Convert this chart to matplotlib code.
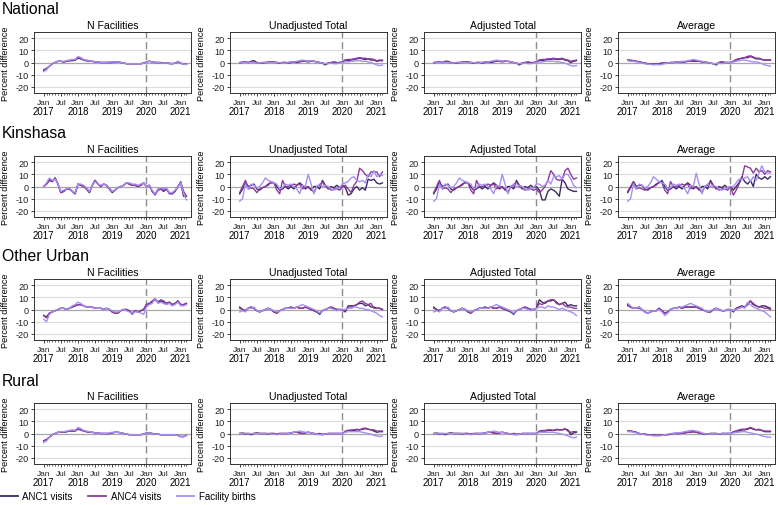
import matplotlib
matplotlib.use("Agg")
import matplotlib.pyplot as plt
import matplotlib.transforms as mtransforms
from matplotlib.lines import Line2D

plt.rcParams['font.family'] = ['Liberation Sans', 'DejaVu Sans']

# ---------------- data ----------------
months = list(range(51))  # Jan 2017 .. Mar 2021
series_names = ["ANC1 visits", "ANC4 visits", "Facility births"]
regions = ["National", "Kinshasa", "Other Urban", "Rural"]
panels = ["N Facilities", "Unadjusted Total", "Adjusted Total", "Average"]
tick_months = [0, 6, 12, 18, 24, 30, 36, 42, 48]
tick_labels = ["Jan", "Jul", "Jan", "Jul", "Jan", "Jul", "Jan", "Jul", "Jan"]
year_months = [0, 12, 24, 36, 48]
year_labels = ["2017", "2018", "2019", "2020", "2021"]
covid_month = 36

# National
nat_nf_anc1 = [-6,-5,-3,-1,0,1,1,0.5,1,1.5,1.5,2, 3.5,3,2,1.5,1,1,0.5,0.5,0,0,0,0, 0,0.5,0.5,0,-0.5,-1,-1,-1,-1,-1,-1,-0.5, 0.5,1,0.5,0,0,0,-0.5,-0.5,-0.5,-1,-0.5,0.5, -0.5,-1.5,-1.5]
nat_nf_anc4 = [-6.5,-5,-3,-1,0,1,1,0.5,1,1.5,2,2, 4,3.5,2,1.5,1,1,0.5,0.5,0,0,0,0, 0,0.5,0.5,0,-0.5,-1,-1,-1,-1,-1,-1,-0.5, 0.5,1,0.5,0,0,-0.5,-0.5,-0.5,-1,-1,-0.5,0.5, -0.5,-1.5,-1.5]
nat_nf_birth = [-7.5,-6,-3,-1,0,1,1,1,1.5,2,2.5,2.5, 5,4,2.5,2,1.5,1,0.5,0.5,0,0,0,0.5, 0.5,0.5,0.5,0,-0.5,-1,-1,-1,-1,-1,-1,-0.5, 0.5,1,0.5,0,0,-0.5,-0.5,-0.5,-0.5,-1,-0.5,1, -0.5,-1.5,-1.5]

nat_un_anc1 = [-0.5,0,0.5,0,1,1.5,0,-0.5,-0.5,0,0,0.5, 0.5,0,-0.5,0,0,-0.5,0,0.5,0,0.5,1,1, 0.5,1,1,0.5,0,-0.5,-2,-0.5,0,0,-0.5,0, 0.5,2,1.5,2,2.5,3,3.5,3,2.5,3,2,2, 1,1.5,1.5]
nat_un_anc4 = [0,0.5,0.5,0,0.5,0.5,-0.5,-0.5,0,0,0.5,0.5, 0,0,-0.5,0,0,0,0.5,0.5,0.5,1,1,1.5, 1,1.5,1,0.5,0,-0.5,-1,-0.5,0,0.5,0,0, 0.5,2,2.5,2.5,3,3.5,4,3.5,3.5,3,3,2.5, 1.5,2,2]
nat_un_birth = [-0.5,0,0,0.5,0,0,-0.5,-0.5,0,0,0,0, 0,0,0,-0.5,-0.5,0,0.5,0.5,1,1.5,2,1.5, 1,1.5,1,0.5,0,-0.5,-1,-1,-0.5,-1,-1,-0.5, 0,0.5,0.5,1,1,1.5,1.5,1,1,0.5,0,-1, -2,-2.5,-2]

nat_ad_anc1 = [-0.5,0,0.5,0,1,1,0,-0.5,-0.5,0,0,0.5, 0.5,0,-0.5,0,0,-0.5,0,0.5,0,0.5,1,1, 0.5,1,1,0.5,0,-0.5,-2,-0.5,0,0,-0.5,0, 0.5,2,1.5,2,2.5,2.5,3,2.5,2.5,3,2,1.5, 0,1,1.5]
nat_ad_anc4 = [0,0.5,0.5,0,0.5,0.5,-0.5,-0.5,0,0,0.5,0.5, 0,0,-0.5,0,0,0,0.5,0.5,0.5,1,1,1.5, 1,1.5,1,0.5,0,-0.5,-1,-0.5,0,0.5,0,0, 0.5,2,2.5,2.5,3,3,3.5,3,3,3.5,2.5,2, 1,1.5,2]
nat_ad_birth = [-0.5,0,0,0.5,0,0,-0.5,-0.5,0,0,0,0, 0,0,0,-0.5,-0.5,0,0.5,0.5,1,1.5,2,1.5, 1,1.5,1,0.5,0,-0.5,-1,-1,-0.5,-1,-1,-0.5, 0,0.5,0.5,1,1,1,1,0.5,0.5,0,-0.5,-1.5, -2.5,-3,-2.5]

nat_av_anc1 = [2,1.5,1.5,1,0.5,0,-0.5,-1,-1,-1.5,-1,-1, -0.5,-0.5,-0.5,0,0,0.5,0.5,0.5,0.5,1,1,1, 1,1,0.5,0.5,0,-0.5,-1,-2,0,0.5,0,0, 0,1,2,3,3.5,4,4,5,4,3,3,2.5, 2,2,2]
nat_av_anc4 = [2,2,1.5,1,0.5,0,-0.5,-1,-1,-1.5,-1,-1, -0.5,-0.5,-0.5,0,0,0.5,0.5,0.5,0.5,1,1,1.5, 1.5,1,0.5,0.5,0,-0.5,-1,-1,0,0.5,0,0, 0,1,2.5,3,3.5,4,5,5.5,4.5,3.5,3.5,2.5, 2,2,2]
nat_av_birth = [1.5,1,1,0.5,0,-0.5,-1,-1.5,-1.5,-2,-1.5,-2, -1.5,-1,-0.5,0,0,0.5,0.5,1,1,1.5,2,2.5, 2,1.5,1,0.5,0,-0.5,-1,-1,-0.5,-1,-0.5,0, 0,0.5,1,1.5,2,2,1.5,1,0.5,0.5,0,-1, -2,-2.5,-3]

# Kinshasa
kin_nf_anc1 = [0,2,5,4,7,2,-5,-4,-2,-2,-4,-6, 2,1,0,-2,-5,1,5,2,0,2,1,-2, -5,-3,-1,0,1,3,2,1,1,0,1,3, 0,1,-4,-6,-3,-2,-4,-2,-5,-6,-4,0, 3,-8,-8]
kin_nf_anc4 = [0,2,6,4,7,2,-5,-4,-2,-2,-4,-6, 2,1,0,-2,-5,1,5,2,0,2,1,-2, -4,-3,-1,0,1,3,2,1,1,0,1,3, 0,1,-4,-7,-3,-2,-3,-2,-6,-6,-4,0, 4,-4,-8]
kin_nf_birth = [0,3,7,5,6,2,-4,-3,-2,-1,-4,-5, 2,2,1,-1,-4,1,4,2,1,2,1,-1, -4,-3,-1,0,1,3,3,2,2,1,2,3, 0,1,-3,-6,-2,-1,-2,-1,-5,-5,-3,0, 3,-6,-11]

kin_un_anc1 = [-6,-2,4,0,1,2,-2,-3,-1,0,2,3, 3,0,-3,-2,0,-2,0,-2,1,3,1,-2, 0,-3,0,0,-2,5,1,-2,0,-1,1,-1, 1,-1,-7,-6,-2,0,-3,-1,-3,6,5,6, 3,2,3]
kin_un_anc4 = [-5,0,5,-2,-1,-2,-5,-2,-1,0,1,4, 3,-3,-6,5,0,0,1,2,1,2,-2,0, -1,-2,-5,0,1,4,0,-1,-3,-2,-2,-3, 0,1,-2,-5,1,4,15,13,10,8,12,12, 12,8,12]
kin_un_birth = [-12,-10,2,-2,2,1,-1,0,3,7,5,4, 3,2,-2,-1,2,1,2,0,-2,-6,1,0, 10,2,-6,0,2,0,1,0,-2,-3,-2,-1, 2,3,4,7,8,5,4,5,3,10,8,13, 8,10,9]

kin_ad_anc1 = kin_un_anc1[:36] + [0,-3,-11,-11,-4,-2,-3,-5,-8,6,3,-2,-3,-4,-4]
kin_ad_anc4 = kin_un_anc4[:36] + [-2,-5,-3,0,5,13,10,6,5,6,13,15,10,6,7]
kin_ad_birth = kin_un_birth[:36] + [2,2,0,1,5,2,8,8,9,6,10,10,6,1,-1]

kin_av_anc1 = [-5,-1,4,0,1,1,-2,-3,-1,0,2,3, 5,0,-3,-2,0,-2,0,-2,1,3,1,-2, 0,-3,0,0,-2,5,1,-2,0,-1,1,-1, 0,-3,0,3,8,4,2,5,0,10,7,6,8, 6,8]
kin_av_anc4 = [-4,0,4,-2,-1,-2,-3,-2,-1,0,1,4, 3,-3,-6,4,0,0,1,2,1,2,-2,0, -1,-2,-5,0,1,4,0,-1,-3,-2,-2,-3, 0,-7,-3,2,7,17,16,15,11,15,12,13, 10,13,12]
kin_av_birth = [-12,-10,2,-2,2,1,-1,0,3,8,6,4, 3,2,-2,-1,2,1,2,0,-2,-6,1,0, 11,2,-6,0,2,0,1,0,-2,-3,-2,-1, 0,0,3,6,6,7,8,4,8,5,11,17, 12,11,11]

# Other Urban
ou_nf_anc1 = [-5,-6,-3,-2,-1,0,1,1,0,1,2,3, 4,4,3,2,2,2,1,1,1,0,1,0, -2,-3,-3,-1,0,0,-1,-3,-1,-2,-1,0, 4,5,6,8,6,7,6,5,6,4,5,7, 4,4,5]
ou_nf_anc4 = [-5,-7,-3,-2,-1,0,1,1,0,1,2,3, 4,4,3,2,2,2,1,1,1,0,1,0, -2,-3,-3,-1,0,0,-1,-4,-1,-2,-1,0, 4,5,7,9,6,8,7,5,6,4,5,7, 4,4,5]
ou_nf_birth = [-8,-10,-4,-2,-1,0,1,1,0,1,3,4, 6,5,3,2,2,2,1,1,1,0,1,0, -1,-2,-2,-1,0,-1,-2,-3,-2,-2,-3,-4, 2,4,5,9,5,6,5,4,5,3,4,6, 3,3,4]

ou_un_anc1 = [2,0,-1,1,2,1,-1,-2,-1,0,1,0, -2,-3,-1,0,1,1,2,1,2,1,1,2, 1,0,-1,-2,-4,-1,0,1,2,1,0,0, 0,-2,3,3,3,4,5,5,3,4,2,2, 1,1,0]
ou_un_anc4 = [1,0,-1,1,2,1,-1,-2,-1,0,1,0, -2,-3,-1,0,1,1,2,1,2,1,1,2, 1,0,-1,-2,-3,-1,0,1,2,1,0,0, 0,-1,2,2,3,4,6,7,5,4,5,1, 1,1,0]
ou_un_birth = [-2,-1,-2,1,1,2,-1,-2,-1,0,1,0, -1,-2,-1,0,1,1,1,1,2,3,4,3, 2,1,0,-1,-3,-1,0,1,1,0,-1,0, 0,0,1,1,2,2,1,1,0,0,-1,-2, -3,-5,-6]

ou_ad_anc1 = ou_un_anc1[:36] + [1,8,6,5,7,7,8,6,4,5,6,3,4,3,3]
ou_ad_anc4 = ou_un_anc4[:36] + [1,5,4,6,7,8,8,5,4,5,3,2,2,1,1]
ou_ad_birth = ou_un_birth[:36] + [1,2,2,1,3,2,2,1,0,1,0,-1,-2,-3,-5]

ou_av_anc1 = [4,2,1,1,2,0,-2,-3,-2,-1,-1,1, -1,-3,-2,0,1,1,2,1,2,2,2,2, 2,1,0,-1,-2,-2,0,1,0,-1,-1,0, 0,-2,1,2,3,2,4,7,4,3,2,3, 3,2,1]
ou_av_anc4 = [3,2,1,1,1,0,-2,-3,-2,-1,-1,1, -1,-3,-2,0,1,1,2,1,2,2,2,2, 2,1,0,-1,-2,-2,0,1,0,-1,-1,0, 0,-1,1,1,2,2,5,7,5,3,2,2, 1,1,0]
ou_av_birth = [5,3,1,1,2,0,-2,-3,-2,-1,-1,0, -2,-5,-3,0,1,1,2,2,3,4,5,4, 3,2,1,-1,-2,-1,0,1,0,-1,-1,0, 0,-1,0,1,2,1,6,4,2,1,0,-1, -2,-4,-6]

# Rural
ru_nf_anc1 = [-6,-5,-3,-1,0,1,1,1,1.5,2,2,2, 3.5,3,2,1.5,1,1,0.5,0.5,0,0,0,0, 0.5,1,1,0.5,0,-0.5,-1,-1,-1,-1,-1,-0.5, 0.5,0.5,0,-0.5,-0.5,-1,-1,-1,-1,-1,-1,-1.5, -2.5,-2.5,-1.5]
ru_nf_anc4 = [-6,-5,-3,-1,0,1,1,1,1.5,2,2,2.5, 4,3,2,1.5,1,1,0.5,0.5,0,0,0,0, 0.5,1,1,0.5,0,-0.5,-1,-1,-1,-1,-1,-0.5, 0.5,0.5,0,-0.5,-0.5,-1,-1,-1,-1,-1,-1,-1.5, -2.5,-2.5,-1.5]
ru_nf_birth = [-7.5,-6,-3,-1,0,1,1.5,1.5,2,2.5,3,2.5, 5,4,2.5,2,1.5,1,0.5,0.5,0,0,0,0.5, 1,1,1,0.5,0,-0.5,-1,-1,-1,-1,-1,-0.5, 0.5,0.5,0,-0.5,-0.5,-1,-1,-1,-1,-1,-1,-1.5, -2.5,-2.5,-1.5]

ru_un_anc1 = [0,0,-0.5,0,-1,0,0.5,0,0,0,-0.5,0, 0,-0.5,0,0,0,0,0.5,1,1,0.5,0,0.5, 1,0.5,0,-0.5,0,-1,-0.5,0,0,0,0,0, 0,1.5,2.5,2,2.5,3,3,3.5,4,3.5,3,2, 1,1.5,1.5]
ru_un_anc4 = [0,0.5,0,0,-0.5,0,0.5,0,0,0,0,0, 0,-0.5,0,0,0,0,0.5,1,1,0.5,0,0.5, 1,0.5,0,-0.5,0,-0.5,-0.5,0,0,0,0,0, 0,2,2.5,3,3,3.5,3,4,4.5,3.5,3,3, 2,2,2]
ru_un_birth = [0,0,0,0,0,0,0,0,0,0,0,-0.5, -0.5,-1,-0.5,0,0,0,0.5,1,1.5,2,1.5,1, 1,0.5,0,-0.5,-1,-1,-0.5,0,0,0,0,0, 0,1,1.5,1.5,1.5,1.5,1.5,1,0.5,0,-0.5,-1.5, -2,-2.5,-2]

ru_ad_anc1 = ru_un_anc1[:36] + [0,1.5,2,2,2.5,2.5,2.5,3,3,3,3.5,3,-1,0.5,1]
ru_ad_anc4 = ru_un_anc4[:36] + [0,2,2.5,2.5,3,3,2.5,3.5,3,3,4,2,1,1.5,1.5]
ru_ad_birth = ru_un_birth[:36] + [0,1,1,1,1,1,1,0.5,0,-0.5,-1,-2,-3,-3.5,-3]

ru_av_anc1 = [2,2,1.5,1,0,-0.5,-0.5,-1,-1,-1,-1.5,-1.5, -1,-1,-1,-0.5,0,0,0,0.5,0.5,1,1,1.5, 1,0.5,0,-0.5,-0.5,0,0,0,-0.5,0,0,0, 0,1,2,2,3,3,3.5,4.5,3.5,3,3,2.5, 1.5,1.5,1.5]
ru_av_anc4 = [2,2,1.5,1,0,-0.5,-0.5,-1,-1,-1,-1.5,-1.5, -1,-1,-1,-0.5,0,0,0,0.5,0.5,1,1,1.5, 1,0.5,0,-0.5,-0.5,0,0,0,-0.5,0,0,0, 0,1.5,2,3,3.5,3.5,4,5,4,3,3.5,2.5, 2,2,2]
ru_av_birth = [1.5,1.5,1,0.5,0,-0.5,-1,-1.5,-1.5,-2,-2,-2, -1.5,-1,-0.5,0,0,0.5,0.5,1,1.5,2,2.5,2.5, 2,1.5,0.5,0,-0.5,-0.5,0,0,-0.5,0,0,0, 0,0.5,1,1,1.5,1.5,1,0.5,0,-0.5,-1,-2, -2.5,-3,-3]

data = [
    [(nat_nf_anc1, nat_nf_anc4, nat_nf_birth), (nat_un_anc1, nat_un_anc4, nat_un_birth),
     (nat_ad_anc1, nat_ad_anc4, nat_ad_birth), (nat_av_anc1, nat_av_anc4, nat_av_birth)],
    [(kin_nf_anc1, kin_nf_anc4, kin_nf_birth), (kin_un_anc1, kin_un_anc4, kin_un_birth),
     (kin_ad_anc1, kin_ad_anc4, kin_ad_birth), (kin_av_anc1, kin_av_anc4, kin_av_birth)],
    [(ou_nf_anc1, ou_nf_anc4, ou_nf_birth), (ou_un_anc1, ou_un_anc4, ou_un_birth),
     (ou_ad_anc1, ou_ad_anc4, ou_ad_birth), (ou_av_anc1, ou_av_anc4, ou_av_birth)],
    [(ru_nf_anc1, ru_nf_anc4, ru_nf_birth), (ru_un_anc1, ru_un_anc4, ru_un_birth),
     (ru_ad_anc1, ru_ad_anc4, ru_ad_birth), (ru_av_anc1, ru_av_anc4, ru_av_birth)],
]

colors = ["#3e2a63", "#8c3b9e", "#a78ff2"]

# ---------------- layout ----------------
W, H = 778, 506
fig = plt.figure(figsize=(W / 100, H / 100), dpi=100)
fig.patch.set_facecolor("white")

lefts = [34, 230, 424, 618]
tops = [33, 157, 280, 404]
aw, ah = 157, 61
row_title_y = [9, 133, 257, 382]

for r in range(4):
    fig.text(2 / W, 1 - row_title_y[r] / H, regions[r], fontsize=11.3,
             ha="left", va="center", color="black")
    for c in range(4):
        ax = fig.add_axes([lefts[c] / W, 1 - (tops[r] + ah) / H, aw / W, ah / H])
        ax.set_xlim(-3.4, 51.6)
        ax.set_ylim(-25, 25)
        for yv in [-20, -10, 10, 20]:
            ax.axhline(yv, color="#dcdcdc", lw=0.8, zorder=0)
        ax.axhline(0, color="#a8a8a8", lw=0.9, zorder=0.5)
        ax.axvline(covid_month, color="#8c8c8c", lw=1.0, ls=(0, (5, 3)), zorder=1)
        for s in range(3):
            ax.plot(months, data[r][c][s], color=colors[s], lw=1.0, zorder=2 + s * 0.1)
        ax.set_yticks([-20, -10, 0, 10, 20])
        ax.set_yticklabels(["-20", "-10", "0", "10", "20"])
        ax.set_xticks(tick_months)
        ax.set_xticklabels(tick_labels)
        ax.set_xticks(months, minor=True)
        ax.tick_params(axis="y", labelsize=6.6, length=2.5, width=0.6, pad=1.5, colors="#222222")
        ax.tick_params(axis="x", which="major", labelsize=6.0, length=2.5, width=0.6, pad=1.5, colors="#222222")
        ax.tick_params(axis="x", which="minor", length=1.5, width=0.5, colors="#222222")
        for sp in ax.spines.values():
            sp.set_linewidth(0.7)
            sp.set_color("#333333")
        ax.set_title(panels[c], fontsize=7.6, pad=2.8)
        ax.set_ylabel("Percent difference", fontsize=6.6, labelpad=3.5)
        trans = mtransforms.blended_transform_factory(ax.transData, ax.transAxes)
        for ym, yl in zip(year_months, year_labels):
            ax.text(ym, -0.29, yl, transform=trans, fontsize=6.9, ha="center", va="center")

handles = [Line2D([0], [0], color=colors[i], lw=1.3) for i in range(3)]
fig.legend(handles, series_names, loc="center left", bbox_to_anchor=(0.0, 1 - 497 / H),
           frameon=False, ncol=3, fontsize=7, handlelength=1.8, handletextpad=0.5,
           columnspacing=1.6, borderaxespad=0, borderpad=0)

fig.savefig("out.png", dpi=100, facecolor="white")
